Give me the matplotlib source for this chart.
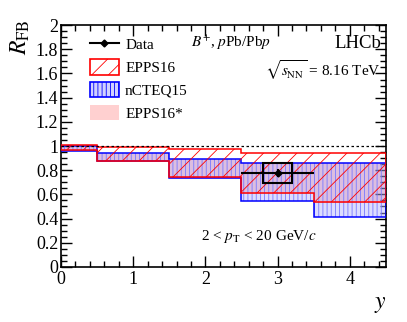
import numpy as np
import matplotlib
matplotlib.use("Agg")
from matplotlib import pyplot as plt
from matplotlib.patches import Patch
from matplotlib.lines import Line2D
from matplotlib.ticker import MultipleLocator

## style ##
plt.rcParams['font.family'] = ['Liberation Serif', 'DejaVu Serif']
plt.rcParams['mathtext.fontset'] = 'stix'
plt.rcParams['hatch.linewidth'] = 0.6

## data ##
edges = [0.0, 0.5, 1.5, 2.5, 3.5, 4.5]
epps_hi = [1.005, 0.99, 0.975, 0.945, 0.945]
epps_lo = [0.97, 0.88, 0.74, 0.61, 0.54]
ncteq_hi = [1.0, 0.945, 0.89, 0.86, 0.86]
ncteq_lo = [0.96, 0.875, 0.735, 0.545, 0.415]
eppsstar_hi = [0.995, 0.945, 0.89, 0.86, 0.86]
eppsstar_lo = [0.96, 0.865, 0.73, 0.60, 0.53]

data_x = [3.0]
data_y = [0.777]
data_xerr = [0.5]
data_stat = [0.03]
data_syst = [0.08]
syst_halfwidth = 0.2

fig = plt.figure(figsize=(4.07, 3.22), dpi=100)
ax = fig.add_axes([0.15, 0.171, 0.798, 0.751])

## bands ##
ax.stairs(eppsstar_hi, edges, baseline=eppsstar_lo, fill=True,
          facecolor='#ffc8c8', edgecolor='none', zorder=1)
ax.stairs(ncteq_hi, edges, baseline=ncteq_lo, fill=True,
          facecolor=(0.7, 0.7, 1.0, 0.45), edgecolor='#7878ff', hatch='||||',
          linewidth=0, zorder=2)
ax.stairs(ncteq_hi, edges, baseline=ncteq_lo, fill=False, color='blue', lw=1.1, zorder=3)
ax.stairs(epps_hi, edges, baseline=epps_lo, fill=True,
          facecolor='none', edgecolor='red', hatch='//', linewidth=0, zorder=4)
ax.stairs(epps_hi, edges, baseline=epps_lo, fill=False, color='red', lw=1.1, zorder=4)

ax.axhline(1.0, color='black', ls=(0, (2, 2)), lw=0.9, zorder=5)

## data point ##
for x, y, s in zip(data_x, data_y, data_syst):
    ax.add_patch(plt.Rectangle((x - syst_halfwidth, y - s), 2 * syst_halfwidth, 2 * s,
                               fill=False, edgecolor='black', lw=1.5, zorder=6))
ax.errorbar(data_x, data_y, xerr=data_xerr, yerr=data_stat, fmt='D', color='black',
            ms=3.5, lw=1.5, capsize=0, zorder=7)

## axes ##
ax.set_xlim(0, 4.5)
ax.set_ylim(0, 2)
ax.xaxis.set_major_locator(MultipleLocator(1))
ax.xaxis.set_minor_locator(MultipleLocator(0.2))
ax.yaxis.set_major_locator(MultipleLocator(0.2))
ax.yaxis.set_minor_locator(MultipleLocator(0.05))
ax.tick_params(which='both', direction='in', top=True, right=True, labelsize=13)
ax.tick_params(which='major', length=8, width=1)
ax.tick_params(which='minor', length=4, width=1)
ax.tick_params(axis='x', pad=3)
ax.tick_params(axis='y', pad=2)
ax.set_yticks([0, 0.2, 0.4, 0.6, 0.8, 1, 1.2, 1.4, 1.6, 1.8, 2])
ax.set_yticklabels(['0', '0.2', '0.4', '0.6', '0.8', '1', '1.2', '1.4', '1.6', '1.8', '2'])
for sp in ax.spines.values():
    sp.set_linewidth(1.2)

fig.text(0.05, 0.885, r'$R_{\rm FB}$', fontsize=17, rotation=90, ha='center', va='center')
fig.text(0.935, 0.055, r'$y$', fontsize=17, ha='center', va='center')

## text ##
ax.text(0.40, 0.925, r'$B^{+}$, $p$Pb/Pb$p$', transform=ax.transAxes, fontsize=11, va='center')
ax.text(0.985, 0.925, 'LHCb', transform=ax.transAxes, fontsize=13.5, ha='right', va='center')
ax.text(0.985, 0.815, r'$\sqrt{s_{\rm NN}}$ = 8.16 TeV', transform=ax.transAxes, fontsize=11,
        ha='right', va='center')
ax.text(0.61, 0.125, r'2 < $p_{\rm T}$ < 20 GeV/$c$', transform=ax.transAxes, fontsize=11,
        ha='center', va='center')

## legend ##
handles = [
    Line2D([0], [0], color='black', marker='D', ms=3.5, lw=1.5),
    Patch(facecolor='none', edgecolor='red', hatch='//', lw=1.2),
    Patch(facecolor=(0.7, 0.7, 1.0, 0.6), edgecolor='blue', hatch='||||', lw=1.2),
    Patch(facecolor='#ffd0d0', edgecolor='none'),
]
labels = ['Data', 'EPPS16', 'nCTEQ15', 'EPPS16*']
ax.legend(handles, labels, loc='upper left', bbox_to_anchor=(0.07, 0.98), frameon=False,
          fontsize=11, handlelength=1.9, handleheight=1.2, labelspacing=0.45,
          handletextpad=0.4, borderaxespad=0)

fig.savefig('out.png', dpi=100)
